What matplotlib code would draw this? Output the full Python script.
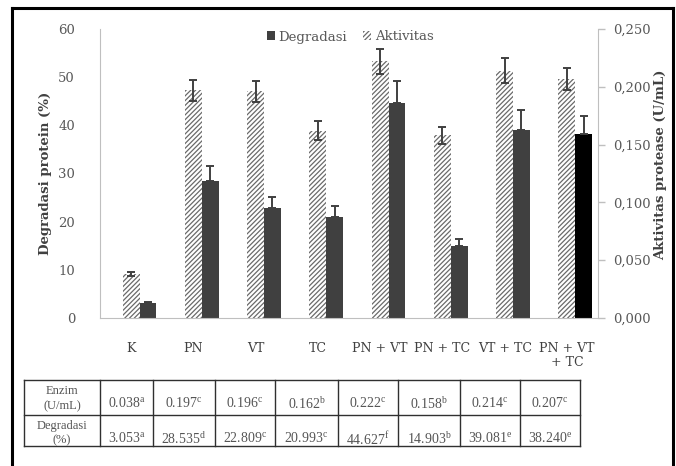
import matplotlib
matplotlib.use("Agg")
import matplotlib.pyplot as plt
from matplotlib.patches import Patch
from matplotlib.lines import Line2D
import numpy as np

# ---- data -------------------------------------------------------------
categories = ["K", "PN", "VT", "TC", "PN + VT", "PN + TC", "VT + TC", "PN + VT\n+ TC"]
aktivitas = [0.038, 0.197, 0.196, 0.162, 0.222, 0.158, 0.214, 0.207]          # U/mL
aktivitas_err = [0.002, 0.009, 0.009, 0.008, 0.0105, 0.0075, 0.0105, 0.0095]
degradasi = [3.053, 28.535, 22.809, 20.993, 44.627, 14.903, 39.081, 38.240]    # %
degradasi_err = [0.3, 3.1, 2.4, 2.2, 4.5, 1.5, 4.1, 3.7]
enzim_notation = ["a", "c", "c", "b", "c", "b", "c", "c"]
degradasi_notation = ["a", "d", "c", "c", "f", "b", "e", "e"]
left_ticks = [0, 10, 20, 30, 40, 50, 60]
right_ticks = [0.0, 0.05, 0.10, 0.15, 0.20, 0.25]

plt.rcParams["mathtext.fontset"] = "custom"
plt.rcParams["mathtext.rm"] = "Liberation Serif"
plt.rcParams["hatch.linewidth"] = 0.9

W, H = 676, 466
fig = plt.figure(figsize=(W / 100, H / 100), dpi=100)
fig.patch.set_facecolor("white")


def fx(x):
    return x / W


def fy(y):
    return 1 - y / H


SERIF = "DejaVu Serif"
TICK_GRAY = "#595959"
SPINE_GRAY = "#bfbfbf"
BAR_DARK = "#404040"
HATCH_GRAY = "#6a6a6a"
HATCH = "///////"

ax = fig.add_axes([fx(100), fy(318), (598 - 100) / W, (318 - 29) / H])
ax2 = ax.twinx()

x = np.arange(len(categories))
bw = 0.27

# degradation bars (left axis); the combined treatment is drawn in black
deg_colors = [BAR_DARK] * (len(categories) - 1) + ["#000000"]
ax.bar(x + bw, degradasi, width=bw, color=deg_colors, zorder=2)
ax.errorbar(x + bw, degradasi, yerr=[np.zeros(len(degradasi)), degradasi_err],
            fmt="none", ecolor=BAR_DARK, elinewidth=1.4, capsize=3, capthick=1.4, zorder=3)

# enzyme activity bars (right axis), diagonal hatch
ax2.bar(x, aktivitas, width=bw, facecolor="white", edgecolor=HATCH_GRAY,
        linewidth=0, hatch=HATCH, zorder=2)
ax2.errorbar(x, aktivitas, yerr=aktivitas_err, fmt="none", ecolor=BAR_DARK,
             elinewidth=1.4, capsize=3, capthick=1.4, zorder=3)

ax.set_xlim(-0.5, 7.5)
ax.set_ylim(0, 60)
ax2.set_ylim(0, 0.25)

ax.set_yticks(left_ticks)
ax.set_yticklabels([str(v) for v in left_ticks])
ax2.set_yticks(right_ticks)
ax2.set_yticklabels([f"{v:.3f}".replace(".", ",") for v in right_ticks])

ax.set_xticks(x)
ax.set_xticklabels(categories)

for a in (ax, ax2):
    for s in a.spines.values():
        s.set_visible(False)
ax.spines["left"].set_visible(True)
ax.spines["left"].set_color(SPINE_GRAY)
ax.spines["bottom"].set_visible(True)
ax.spines["bottom"].set_color(SPINE_GRAY)
ax2.spines["right"].set_visible(True)
ax2.spines["right"].set_color(SPINE_GRAY)

ax.tick_params(axis="y", length=0, pad=18, labelsize=9.5, labelcolor=TICK_GRAY)
ax.tick_params(axis="x", length=0, pad=17, labelsize=9, labelcolor="#404040")
ax2.tick_params(axis="y", length=5, width=1, color=SPINE_GRAY, pad=6,
                labelsize=9.5, labelcolor=TICK_GRAY)
for lbl in ax.get_xticklabels() + ax.get_yticklabels() + ax2.get_yticklabels():
    lbl.set_fontfamily(SERIF)
for lbl in ax.get_xticklabels():
    lbl.set_multialignment("center")
    lbl.set_linespacing(1.1)

fig.text(fx(46), fy(173), "Degradasi protein (%)", rotation=90, ha="center", va="center",
         family=SERIF, fontweight="bold", fontsize=9.5, color="#404040")
fig.text(fx(661), fy(165), "Aktivitas protease (U/mL)", rotation=90, ha="center", va="center",
         family=SERIF, fontweight="bold", fontsize=9.5, color="#404040")

handles = [Patch(facecolor=BAR_DARK, edgecolor="none", label="Degradasi"),
           Patch(facecolor="white", edgecolor=HATCH_GRAY, linewidth=0, hatch=HATCH,
                 label="Aktivitas")]
fig.legend(handles=handles, loc="center", bbox_to_anchor=(fx(350), fy(37)), ncol=2,
           frameon=False, handlelength=0.65, handleheight=0.65, handletextpad=0.25,
           columnspacing=1.2, prop={"family": SERIF, "size": 9.5}, labelcolor=TICK_GRAY)

# ---- data table below the chart ----------------------------------------
col_edges = [24, 100, 153, 215, 275, 338, 398, 460, 520, 580]
row_edges = [380, 415, 446]
line_kw = dict(color="#303030", linewidth=1.0, transform=fig.transFigure)
for yy in row_edges:
    fig.add_artist(Line2D([fx(col_edges[0]), fx(col_edges[-1])], [fy(yy), fy(yy)], **line_kw))
for xx in col_edges:
    fig.add_artist(Line2D([fx(xx), fx(xx)], [fy(row_edges[0]), fy(row_edges[-1])], **line_kw))

TABLE_FONT = "Liberation Serif"
TABLE_GRAY = "#555555"
hx = (col_edges[0] + col_edges[1]) / 2
fig.text(fx(hx), fy(391), "Enzim", ha="center", va="center", family=TABLE_FONT,
         fontsize=9, color=TABLE_GRAY)
fig.text(fx(hx), fy(406), "(U/mL)", ha="center", va="center", family=TABLE_FONT,
         fontsize=9, color=TABLE_GRAY)
fig.text(fx(hx), fy(426), "Degradasi", ha="center", va="center", family=TABLE_FONT,
         fontsize=9, color=TABLE_GRAY)
fig.text(fx(hx), fy(440), "(%)", ha="center", va="center", family=TABLE_FONT,
         fontsize=9, color=TABLE_GRAY)

for i in range(len(categories)):
    cx = (col_edges[i + 1] + col_edges[i + 2]) / 2
    fig.text(fx(cx), fy(404), f"{aktivitas[i]:.3f}" + r"$^{\mathrm{" + enzim_notation[i] + "}}$",
             ha="center", va="center", family=TABLE_FONT, fontsize=10, color=TABLE_GRAY)
    fig.text(fx(cx), fy(439), f"{degradasi[i]:.3f}" + r"$^{\mathrm{" + degradasi_notation[i] + "}}$",
             ha="center", va="center", family=TABLE_FONT, fontsize=10, color=TABLE_GRAY)

# outer frame (left, top, right)
frame_kw = dict(color="black", linewidth=2.2, transform=fig.transFigure)
fig.add_artist(Line2D([fx(12), fx(12)], [fy(8), 0], **frame_kw))
fig.add_artist(Line2D([fx(12), fx(673)], [fy(8), fy(8)], **frame_kw))
fig.add_artist(Line2D([fx(673), fx(673)], [fy(8), 0], **frame_kw))

fig.savefig("out.png", dpi=100)
